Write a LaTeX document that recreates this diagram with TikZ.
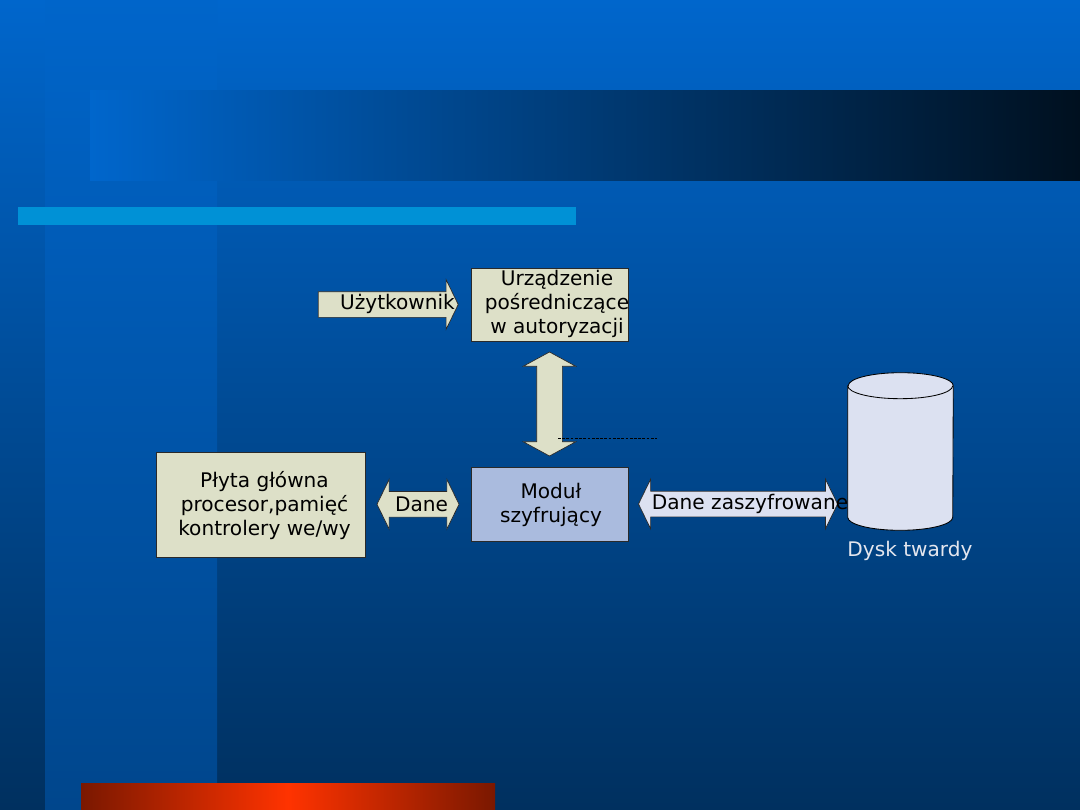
\documentclass[tikz,border=0pt]{standalone}
\usepackage{fontspec}
\setmainfont{DejaVu Sans}
\usetikzlibrary{positioning, calc, shapes.arrows}
\definecolor{bgTop}{HTML}{0066CC}
\definecolor{bgBottom}{HTML}{00305F}
\definecolor{colTop}{HTML}{0065CA}
\definecolor{colBottom}{HTML}{00468C}
\definecolor{barDark}{HTML}{00101F}
\definecolor{barLight}{HTML}{0091D6}
\definecolor{barRed}{HTML}{7A1800}
\definecolor{barOrange}{HTML}{FF3300}
\definecolor{boxBeige}{HTML}{DDE0C8}
\definecolor{boxBlue}{HTML}{AABBDE}
\definecolor{diskFill}{HTML}{DCE1F1}
\definecolor{diskText}{HTML}{E4E6EE}
\definecolor{lineGray}{HTML}{2A2A2A}

\begin{document}
\begin{tikzpicture}[x=0.025cm, y=-0.025cm,
    every node/.style={font=\fontsize{14.3pt}{17.1pt}\selectfont},
    block/.style={draw=lineGray, line width=0.5pt, inner sep=0pt},
    tag/.style={inner sep=0pt, align=center}]

    % slide background
    \useasboundingbox (0,0) rectangle (1080,810);
    \shade[top color=bgTop, bottom color=bgBottom] (0,0) rectangle (1080,810);
    \shade[top color=colTop, bottom color=colBottom] (45,0) rectangle (217,810);
    \shade[left color=bgTop, right color=barDark] (90,90) rectangle (1080,180);
    \fill[barLight] (18,207) rectangle (576,225);
    \shade[left color=barRed, right color=barRed, middle color=barOrange]
        (81,783) rectangle (495,810);

    % boxes
    \node[block, fill=boxBeige, minimum width=3.925cm, minimum height=1.825cm]
        (urz) at (549.5,304.5) {};
    \node[tag] (urztext) at (557,304) {Urządzenie\\pośredniczące\\w autoryzacji};
    \node[block, fill=boxBlue, minimum width=3.925cm, minimum height=1.85cm]
        (modul) at (549.5,504) {};
    \node[tag] (modultext) at (551,505) {Moduł\\szyfrujący};
    \node[block, fill=boxBeige, minimum width=5.225cm, minimum height=2.625cm]
        (plyta) at (260.5,504.5) {};
    \node[tag] (plytatext) at (264.5,505.5) {Płyta główna\\procesor,pamięć\\kontrolery we/wy};
    \node[minimum width=2.625cm, minimum height=3.925cm, inner sep=0pt]
        (disk) at (900.5,451.5) {};

    % disk
    \draw[fill=diskFill, draw=black, line width=0.6pt]
        ($(disk.north west)+(0,13)$) -- ($(disk.south west)+(0,-13)$)
        arc[start angle=180, end angle=360, x radius=1.3125cm, y radius=0.325cm]
        -- ($(disk.north east)+(0,13)$)
        arc[start angle=0, end angle=180, x radius=1.3125cm, y radius=0.325cm] -- cycle;
    \draw[draw=black, line width=0.6pt] ($(disk.north west)+(0,13)$)
        arc[start angle=180, end angle=360, x radius=1.3125cm, y radius=0.325cm];
    \node[tag, text=diskText] (disktext) at (910,551) {Dysk twardy};

    % block arrows
    \node[single arrow, block, fill=boxBeige, inner ysep=0.3125cm,
        minimum height=3.5cm, single arrow head extend=0.3cm,
        single arrow tip angle=128, left=0.3cm of urz] (user) {};
    \node[tag] (usertext) at (397.5,304) {Użytkownik};

    \node[double arrow, block, fill=boxBeige, inner ysep=0.3125cm, rotate=90,
        minimum height=2.6cm, double arrow head extend=0.3375cm,
        double arrow tip angle=123] (auth) at ($(urz.south)!0.5!(modul.north)$) {};
    \draw[black, line width=0.6pt, dash pattern=on 2pt off 1pt] (558,438) -- (657,438);

    \node[double arrow, block, fill=boxBeige, inner ysep=0.3125cm,
        minimum height=2.05cm, double arrow head extend=0.3cm,
        double arrow tip angle=128] (dane) at ($(plyta.east)!0.5!(modul.west)$) {};
    \node[tag] (danetext) at (421.5,504) {Dane};

    \node[double arrow, block, fill=diskFill, inner ysep=0.3125cm,
        minimum height=4.975cm, double arrow head extend=0.3cm,
        double arrow tip angle=128] (zasz) at ($(modul.east)!0.5!(modul.east -| disk.west)$) {};
    \node[tag] (zasztext) at (750,504) {Dane zaszyfrowane};
\end{tikzpicture}
\end{document}
